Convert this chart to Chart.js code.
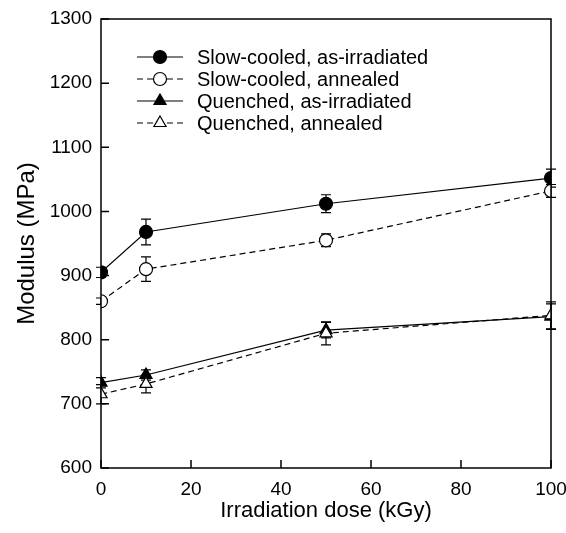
<!DOCTYPE html>
<html>
<head>
<meta charset="utf-8">
<script src="https://cdn.jsdelivr.net/npm/chart.js@4"></script>
<style>
  html, body { margin: 0; padding: 0; background: #fff; }
  #wrap { width: 566px; height: 533px; }
</style>
</head>
<body>
<div id="wrap"><canvas id="modulus-chart"></canvas></div>
<script>
var FONT = "'Liberation Sans', Arial, sans-serif"
var BLACK = "#000000"

// irradiation dose (kGy)
var doses = [0, 10, 50, 100]

// modulus (MPa) and error bar half-widths
var slowIrr = [905, 968, 1012, 1052]
var slowIrrErr = [8, 20, 14, 14]
var slowAnn = [860, 910, 955, 1032]
var slowAnnErr = [5, 19, 10, 10]
var quenIrr = [733, 745, 815, 836]
var quenIrrErr = [8, 8, 12, 20]
var quenAnn = [715, 731, 810, 838]
var quenAnnErr = [15, 14, 18, 21]

var labels = [
  "Slow-cooled, as-irradiated",
  "Slow-cooled, annealed",
  "Quenched, as-irradiated",
  "Quenched, annealed"
]

function pts(ys) {
  return doses.map(function (x, i) { return { x: x, y: ys[i] } })
}

function series(label, ys, errs, style, filled, dashed, order) {
  return {
    label: label,
    data: pts(ys),
    errors: errs,
    borderColor: BLACK,
    borderWidth: 1.2,
    borderDash: dashed ? [6, 4] : [],
    pointStyle: style,
    pointRadius: style == "triangle" ? 7 : 6.5,
    pointBorderWidth: 1.2,
    pointBorderColor: BLACK,
    pointBackgroundColor: filled ? BLACK : "#ffffff",
    fill: false,
    tension: 0,
    order: order
  }
}

// vertical error bars + frame with inward ticks + legend
var errorBars = {
  id: "errorBars",
  beforeDatasetsDraw: function (chart) {
    var c = chart.ctx
    var ys = chart.scales.y
    c.save()
    c.strokeStyle = BLACK
    c.lineWidth = 1.2
    chart.data.datasets.forEach(function (ds, di) {
      var meta = chart.getDatasetMeta(di)
      ds.data.forEach(function (p, i) {
        var px = meta.data[i].x
        var top = ys.getPixelForValue(p.y + ds.errors[i])
        var bot = ys.getPixelForValue(p.y - ds.errors[i])
        c.beginPath()
        c.moveTo(px, top); c.lineTo(px, bot)
        c.moveTo(px - 5, top); c.lineTo(px + 5, top)
        c.moveTo(px - 5, bot); c.lineTo(px + 5, bot)
        c.stroke()
      })
    })
    c.restore()
  },
  afterDraw: function (chart) {
    var c = chart.ctx
    var a = chart.chartArea
    c.save()
    c.strokeStyle = BLACK
    c.lineWidth = 1.5
    c.strokeRect(a.left, a.top, a.right - a.left, a.bottom - a.top)
    c.beginPath()
    chart.scales.x.ticks.forEach(function (t) {
      var px = chart.scales.x.getPixelForValue(t.value)
      c.moveTo(px, a.bottom); c.lineTo(px, a.bottom - 8)
    })
    chart.scales.y.ticks.forEach(function (t) {
      var py = chart.scales.y.getPixelForValue(t.value)
      c.moveTo(a.left, py); c.lineTo(a.left + 8, py)
    })
    c.stroke()

    c.font = "20px " + FONT
    c.textBaseline = "middle"
    chart.data.datasets.forEach(function (ds, i) {
      var y = 57 + i * 22
      c.lineWidth = 1.2
      c.setLineDash(ds.borderDash)
      c.beginPath()
      c.moveTo(137, y); c.lineTo(183, y)
      c.stroke()
      c.setLineDash([])
      c.fillStyle = ds.pointBackgroundColor
      Chart.helpers.drawPoint(c, {
        pointStyle: ds.pointStyle, radius: ds.pointRadius, borderWidth: 1.2
      }, 160, y)
      c.fillStyle = BLACK
      c.fillText(ds.label, 197, y + 1)
    })
    c.restore()
  }
}

var ctx = document.getElementById("modulus-chart")
var chart = new Chart(ctx, {
  type: "line",
  data: {
    datasets: [
      series(labels[0], slowIrr, slowIrrErr, "circle", true, false, 1),
      series(labels[1], slowAnn, slowAnnErr, "circle", false, true, 0),
      series(labels[2], quenIrr, quenIrrErr, "triangle", true, false, 1),
      series(labels[3], quenAnn, quenAnnErr, "triangle", false, true, 0)
    ]
  },
  options: {
    responsive: true,
    maintainAspectRatio: false,
    animation: false,
    layout: { padding: { top: 19, right: 15, left: 0, bottom: 0 } },
    plugins: { legend: { display: false }, tooltip: { enabled: false } },
    scales: {
      x: {
        type: "linear",
        min: 0, max: 100,
        ticks: { stepSize: 20, color: BLACK, padding: 10, font: { family: FONT, size: 19 },
          callback: function (v) { return String(v) } },
        grid: { display: false, drawTicks: false },
        border: { display: false },
        title: { display: true, text: "Irradiation dose (kGy)", color: BLACK, padding: { top: 0, bottom: 9 }, font: { family: FONT, size: 22 } },
        afterFit: function (s) { s.height = 65; s.paddingLeft = 0; s.paddingRight = 0 }
      },
      y: {
        min: 600, max: 1300,
        ticks: { stepSize: 100, color: BLACK, padding: 9, font: { family: FONT, size: 19 },
          callback: function (v) { return String(v) } },
        grid: { display: false, drawTicks: false },
        border: { display: false },
        title: { display: true, text: "Modulus (MPa)", color: BLACK, padding: { top: 13, bottom: 0 }, font: { family: FONT, size: 24 } },
        afterFit: function (s) { s.width = 101; s.paddingTop = 0; s.paddingBottom = 0 }
      }
    }
  },
  plugins: [errorBars]
})
</script>
</body>
</html>
